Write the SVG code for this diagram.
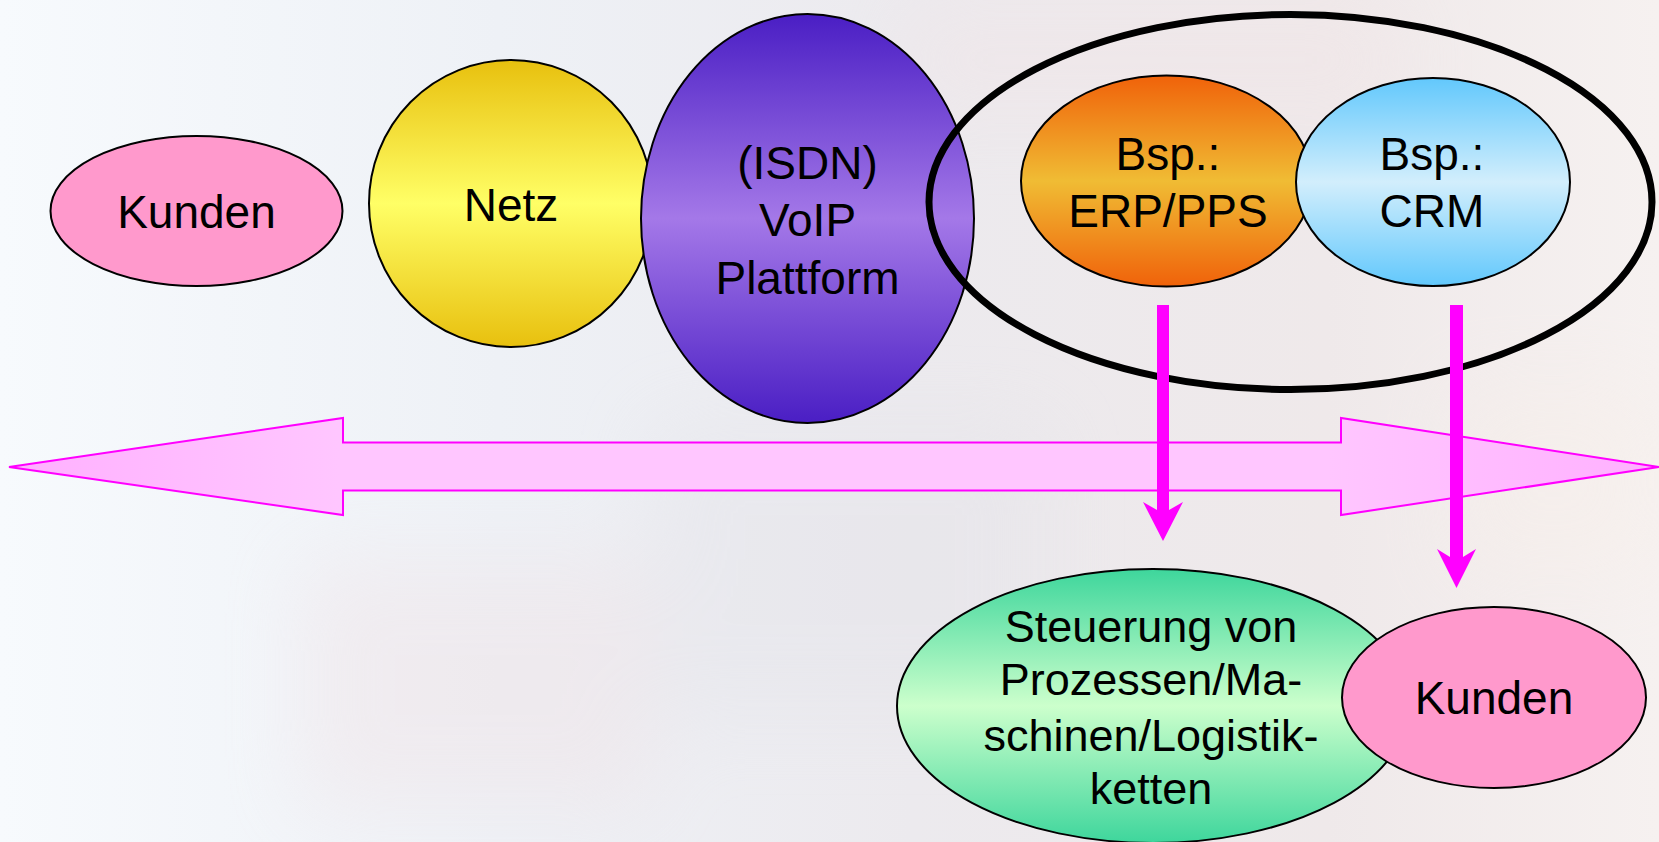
<svg xmlns="http://www.w3.org/2000/svg" width="1659" height="842" viewBox="0 0 1659 842">
<defs>
<linearGradient id="bg" x1="0" y1="0" x2="1" y2="0">
<stop offset="0" stop-color="#f7fafd"/>
<stop offset="0.3" stop-color="#eef1f6"/>
<stop offset="0.55" stop-color="#eceaee"/>
<stop offset="0.8" stop-color="#efe9ea"/>
<stop offset="1" stop-color="#f6f1f0"/>
</linearGradient>
<filter id="blur" x="-20%" y="-20%" width="140%" height="140%"><feGaussianBlur stdDeviation="40"/></filter>
<linearGradient id="gYellow" x1="0" y1="0" x2="0" y2="1">
<stop offset="0" stop-color="#e8c00e"/>
<stop offset="0.5" stop-color="#ffff66"/>
<stop offset="1" stop-color="#e8c00e"/>
</linearGradient>
<linearGradient id="gPurple" x1="0" y1="0" x2="0" y2="1">
<stop offset="0" stop-color="#4a1ec4"/>
<stop offset="0.5" stop-color="#a478e8"/>
<stop offset="1" stop-color="#4a1ec4"/>
</linearGradient>
<linearGradient id="gOrange" x1="0" y1="0" x2="0" y2="1">
<stop offset="0" stop-color="#f0620a"/>
<stop offset="0.5" stop-color="#f0bc34"/>
<stop offset="1" stop-color="#f0620a"/>
</linearGradient>
<linearGradient id="gBlue" x1="0" y1="0" x2="0" y2="1">
<stop offset="0" stop-color="#62c8fc"/>
<stop offset="0.5" stop-color="#d2eefc"/>
<stop offset="1" stop-color="#62c8fc"/>
</linearGradient>
<linearGradient id="gGreen" x1="0" y1="0" x2="0" y2="1">
<stop offset="0" stop-color="#3ed69c"/>
<stop offset="0.5" stop-color="#ccffcc"/>
<stop offset="1" stop-color="#3ed69c"/>
</linearGradient>
<linearGradient id="gPink" x1="0" y1="0" x2="1" y2="0">
<stop offset="0" stop-color="#ffb0ff"/>
<stop offset="0.2" stop-color="#ffc6ff"/>
<stop offset="0.8" stop-color="#ffc6ff"/>
<stop offset="1" stop-color="#ffb0ff"/>
</linearGradient>
</defs>
<style>
.node{stroke:#000;stroke-width:2}
.lbl{font-family:"Liberation Sans",Arial,sans-serif;font-size:46px;fill:#000;text-anchor:middle}
.sm{font-size:45px}
.conn{fill:#ff00ff;stroke:none}
</style>
<rect x="0" y="0" width="1659" height="842" fill="url(#bg)"/>
<g filter="url(#blur)" opacity="0.35">
<rect x="300" y="560" width="350" height="250" fill="#f0dfe2"/>
<rect x="650" y="420" width="400" height="300" fill="#e2e2e8"/>
<rect x="900" y="0" width="500" height="120" fill="#f2e4e6"/>
<rect x="1450" y="380" width="209" height="200" fill="#f8efe8"/>
</g>
<g id="node-kunden-left"><ellipse class="node" cx="196.5" cy="211" rx="146" ry="75" fill="#ff99cc"/><text class="lbl" x="196.5" y="228">Kunden</text></g>
<g id="node-netz"><ellipse class="node" cx="511" cy="203.5" rx="142" ry="143.5" fill="url(#gYellow)"/><text class="lbl" x="511" y="221">Netz</text></g>
<g id="node-voip"><ellipse class="node" cx="807.5" cy="218.5" rx="166.5" ry="204.5" fill="url(#gPurple)"/><text class="lbl" x="807.5" y="179">(ISDN)</text><text class="lbl" x="807.5" y="236">VoIP</text><text class="lbl" x="807.5" y="294">Plattform</text></g>
<g id="node-group"><ellipse cx="1290.5" cy="202" rx="361.5" ry="187.5" fill="none" stroke="#000" stroke-width="7"/></g>
<g id="node-erp"><ellipse class="node" cx="1166.5" cy="181" rx="145.5" ry="105.5" fill="url(#gOrange)"/><text class="lbl" x="1168" y="170">Bsp.:</text><text class="lbl" x="1168" y="227">ERP/PPS</text></g>
<g id="node-crm"><ellipse class="node" cx="1433" cy="182" rx="137" ry="104" fill="url(#gBlue)"/><text class="lbl" x="1432" y="170">Bsp.:</text><text class="lbl" x="1432" y="227">CRM</text></g>
<g id="node-steuerung"><ellipse class="node" cx="1153" cy="706" rx="256" ry="137" fill="url(#gGreen)"/><text class="lbl sm" x="1151" y="642">Steuerung von</text><text class="lbl sm" x="1151" y="695">Prozessen/Ma-</text><text class="lbl sm" x="1151" y="751">schinen/Logistik-</text><text class="lbl sm" x="1151" y="804">ketten</text></g>
<g id="node-kunden-right"><ellipse class="node" cx="1494" cy="697.5" rx="152" ry="90.5" fill="#ff99cc"/><text class="lbl" x="1494" y="714">Kunden</text></g>
<g id="connectors">
<polygon points="9,467 343,418 343,442.5 1341,442.5 1341,418 1659,467 1341,515 1341,490.5 343,490.5 343,515" fill="url(#gPink)" stroke="#ff00ff" stroke-width="2" stroke-linejoin="miter"/>
<polygon class="conn" points="1157,305 1169,305 1169,510 1183,502 1163,541 1143,502 1157,510"/>
<polygon class="conn" points="1450,305 1463,305 1463,557 1476,549 1456.5,588 1437,549 1450,557"/>
</g>
</svg>
